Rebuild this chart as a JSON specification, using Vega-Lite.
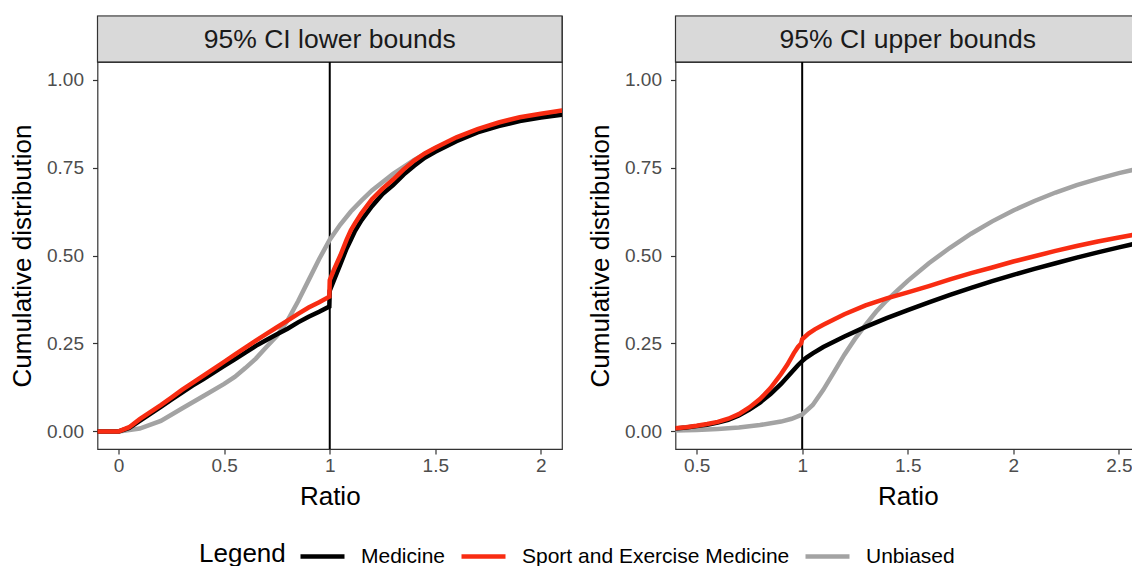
{
  "$schema": "https://vega.github.io/schema/vega-lite/v6.json",
  "padding": {"left": 8.5, "top": 14, "right": 0, "bottom": 0},
  "background": "white",
  "config": {
    "font": "Liberation Sans",
    "view": {"stroke": "#333333", "strokeWidth": 1.2},
    "axis": {
      "grid": false,
      "domain": false,
      "tickColor": "#333333",
      "tickSize": 5,
      "tickWidth": 1.2,
      "labelColor": "#4D4D4D",
      "labelFontSize": 19,
      "labelFont": "Liberation Sans",
      "titleFont": "Liberation Sans",
      "titleFontSize": 26,
      "titleFontWeight": "normal",
      "titleColor": "#000000"
    },
    "axisX": {"labelPadding": 2, "titlePadding": 8, "labelFlush": false},
    "axisY": {"labelPadding": 9, "titlePadding": 11}
  },
  "datasets": {
    "lower": [
      {"series": "Unbiased", "ratio": 0, "cdf": 0},
      {"series": "Unbiased", "ratio": 0.1, "cdf": 0.008},
      {"series": "Unbiased", "ratio": 0.2, "cdf": 0.03},
      {"series": "Unbiased", "ratio": 0.3, "cdf": 0.065},
      {"series": "Unbiased", "ratio": 0.4, "cdf": 0.1},
      {"series": "Unbiased", "ratio": 0.5, "cdf": 0.135},
      {"series": "Unbiased", "ratio": 0.55, "cdf": 0.155},
      {"series": "Unbiased", "ratio": 0.6, "cdf": 0.18},
      {"series": "Unbiased", "ratio": 0.65, "cdf": 0.207},
      {"series": "Unbiased", "ratio": 0.7, "cdf": 0.24},
      {"series": "Unbiased", "ratio": 0.75, "cdf": 0.272},
      {"series": "Unbiased", "ratio": 0.8, "cdf": 0.315},
      {"series": "Unbiased", "ratio": 0.85, "cdf": 0.37},
      {"series": "Unbiased", "ratio": 0.9, "cdf": 0.43},
      {"series": "Unbiased", "ratio": 0.95, "cdf": 0.49},
      {"series": "Unbiased", "ratio": 1.0, "cdf": 0.545},
      {"series": "Unbiased", "ratio": 1.05, "cdf": 0.588},
      {"series": "Unbiased", "ratio": 1.1, "cdf": 0.625},
      {"series": "Unbiased", "ratio": 1.15, "cdf": 0.656},
      {"series": "Unbiased", "ratio": 1.2, "cdf": 0.685},
      {"series": "Unbiased", "ratio": 1.3, "cdf": 0.732},
      {"series": "Unbiased", "ratio": 1.4, "cdf": 0.772},
      {"series": "Unbiased", "ratio": 1.5, "cdf": 0.805},
      {"series": "Unbiased", "ratio": 1.6, "cdf": 0.832},
      {"series": "Unbiased", "ratio": 1.7, "cdf": 0.855},
      {"series": "Unbiased", "ratio": 1.8, "cdf": 0.873},
      {"series": "Unbiased", "ratio": 1.9, "cdf": 0.888},
      {"series": "Unbiased", "ratio": 2.0, "cdf": 0.9},
      {"series": "Unbiased", "ratio": 2.1, "cdf": 0.91},
      {"series": "Unbiased", "ratio": 2.15, "cdf": 0.914},
      {"series": "Medicine", "ratio": -0.15, "cdf": 0},
      {"series": "Medicine", "ratio": 0, "cdf": 0},
      {"series": "Medicine", "ratio": 0.05, "cdf": 0.01},
      {"series": "Medicine", "ratio": 0.1, "cdf": 0.03},
      {"series": "Medicine", "ratio": 0.15, "cdf": 0.05},
      {"series": "Medicine", "ratio": 0.2, "cdf": 0.07},
      {"series": "Medicine", "ratio": 0.25, "cdf": 0.09},
      {"series": "Medicine", "ratio": 0.3, "cdf": 0.11},
      {"series": "Medicine", "ratio": 0.35, "cdf": 0.13},
      {"series": "Medicine", "ratio": 0.4, "cdf": 0.148},
      {"series": "Medicine", "ratio": 0.45, "cdf": 0.167},
      {"series": "Medicine", "ratio": 0.5, "cdf": 0.186},
      {"series": "Medicine", "ratio": 0.55, "cdf": 0.205},
      {"series": "Medicine", "ratio": 0.6, "cdf": 0.224},
      {"series": "Medicine", "ratio": 0.65, "cdf": 0.243},
      {"series": "Medicine", "ratio": 0.7, "cdf": 0.26},
      {"series": "Medicine", "ratio": 0.75, "cdf": 0.276},
      {"series": "Medicine", "ratio": 0.8, "cdf": 0.292},
      {"series": "Medicine", "ratio": 0.85, "cdf": 0.31},
      {"series": "Medicine", "ratio": 0.9, "cdf": 0.326},
      {"series": "Medicine", "ratio": 0.95, "cdf": 0.34},
      {"series": "Medicine", "ratio": 0.998, "cdf": 0.355},
      {"series": "Medicine", "ratio": 1.0, "cdf": 0.4},
      {"series": "Medicine", "ratio": 1.02, "cdf": 0.43},
      {"series": "Medicine", "ratio": 1.05, "cdf": 0.475},
      {"series": "Medicine", "ratio": 1.08, "cdf": 0.52},
      {"series": "Medicine", "ratio": 1.1, "cdf": 0.545},
      {"series": "Medicine", "ratio": 1.12, "cdf": 0.57},
      {"series": "Medicine", "ratio": 1.15, "cdf": 0.6},
      {"series": "Medicine", "ratio": 1.2, "cdf": 0.64},
      {"series": "Medicine", "ratio": 1.25, "cdf": 0.675},
      {"series": "Medicine", "ratio": 1.3, "cdf": 0.7},
      {"series": "Medicine", "ratio": 1.35, "cdf": 0.73},
      {"series": "Medicine", "ratio": 1.4, "cdf": 0.755},
      {"series": "Medicine", "ratio": 1.45, "cdf": 0.778},
      {"series": "Medicine", "ratio": 1.5, "cdf": 0.795},
      {"series": "Medicine", "ratio": 1.6, "cdf": 0.825},
      {"series": "Medicine", "ratio": 1.7, "cdf": 0.85},
      {"series": "Medicine", "ratio": 1.8, "cdf": 0.868},
      {"series": "Medicine", "ratio": 1.9, "cdf": 0.882},
      {"series": "Medicine", "ratio": 2.0, "cdf": 0.892},
      {"series": "Medicine", "ratio": 2.1, "cdf": 0.9},
      {"series": "Medicine", "ratio": 2.15, "cdf": 0.904},
      {"series": "Sport and Exercise Medicine", "ratio": -0.15, "cdf": 0},
      {"series": "Sport and Exercise Medicine", "ratio": 0, "cdf": 0},
      {"series": "Sport and Exercise Medicine", "ratio": 0.05, "cdf": 0.012},
      {"series": "Sport and Exercise Medicine", "ratio": 0.1, "cdf": 0.035},
      {"series": "Sport and Exercise Medicine", "ratio": 0.15, "cdf": 0.055},
      {"series": "Sport and Exercise Medicine", "ratio": 0.2, "cdf": 0.075},
      {"series": "Sport and Exercise Medicine", "ratio": 0.25, "cdf": 0.096},
      {"series": "Sport and Exercise Medicine", "ratio": 0.3, "cdf": 0.118},
      {"series": "Sport and Exercise Medicine", "ratio": 0.35, "cdf": 0.138},
      {"series": "Sport and Exercise Medicine", "ratio": 0.4, "cdf": 0.158},
      {"series": "Sport and Exercise Medicine", "ratio": 0.45, "cdf": 0.178},
      {"series": "Sport and Exercise Medicine", "ratio": 0.5, "cdf": 0.198},
      {"series": "Sport and Exercise Medicine", "ratio": 0.55, "cdf": 0.218},
      {"series": "Sport and Exercise Medicine", "ratio": 0.6, "cdf": 0.238},
      {"series": "Sport and Exercise Medicine", "ratio": 0.65, "cdf": 0.258},
      {"series": "Sport and Exercise Medicine", "ratio": 0.7, "cdf": 0.277},
      {"series": "Sport and Exercise Medicine", "ratio": 0.75, "cdf": 0.296},
      {"series": "Sport and Exercise Medicine", "ratio": 0.8, "cdf": 0.315},
      {"series": "Sport and Exercise Medicine", "ratio": 0.85, "cdf": 0.334},
      {"series": "Sport and Exercise Medicine", "ratio": 0.9, "cdf": 0.352},
      {"series": "Sport and Exercise Medicine", "ratio": 0.95, "cdf": 0.367},
      {"series": "Sport and Exercise Medicine", "ratio": 0.998, "cdf": 0.383},
      {"series": "Sport and Exercise Medicine", "ratio": 1.0, "cdf": 0.43},
      {"series": "Sport and Exercise Medicine", "ratio": 1.02, "cdf": 0.46},
      {"series": "Sport and Exercise Medicine", "ratio": 1.05, "cdf": 0.5},
      {"series": "Sport and Exercise Medicine", "ratio": 1.08, "cdf": 0.545},
      {"series": "Sport and Exercise Medicine", "ratio": 1.1, "cdf": 0.572},
      {"series": "Sport and Exercise Medicine", "ratio": 1.12, "cdf": 0.592},
      {"series": "Sport and Exercise Medicine", "ratio": 1.15, "cdf": 0.62},
      {"series": "Sport and Exercise Medicine", "ratio": 1.2, "cdf": 0.66},
      {"series": "Sport and Exercise Medicine", "ratio": 1.25, "cdf": 0.69},
      {"series": "Sport and Exercise Medicine", "ratio": 1.3, "cdf": 0.716},
      {"series": "Sport and Exercise Medicine", "ratio": 1.35, "cdf": 0.745},
      {"series": "Sport and Exercise Medicine", "ratio": 1.4, "cdf": 0.77},
      {"series": "Sport and Exercise Medicine", "ratio": 1.45, "cdf": 0.79},
      {"series": "Sport and Exercise Medicine", "ratio": 1.5, "cdf": 0.806},
      {"series": "Sport and Exercise Medicine", "ratio": 1.6, "cdf": 0.836},
      {"series": "Sport and Exercise Medicine", "ratio": 1.7, "cdf": 0.859},
      {"series": "Sport and Exercise Medicine", "ratio": 1.8, "cdf": 0.878},
      {"series": "Sport and Exercise Medicine", "ratio": 1.9, "cdf": 0.893},
      {"series": "Sport and Exercise Medicine", "ratio": 2.0, "cdf": 0.903},
      {"series": "Sport and Exercise Medicine", "ratio": 2.1, "cdf": 0.912},
      {"series": "Sport and Exercise Medicine", "ratio": 2.15, "cdf": 0.916}
    ],
    "upper": [
      {"series": "Unbiased", "ratio": 0.38, "cdf": 0.002},
      {"series": "Unbiased", "ratio": 0.5, "cdf": 0.004},
      {"series": "Unbiased", "ratio": 0.6, "cdf": 0.007},
      {"series": "Unbiased", "ratio": 0.7, "cdf": 0.011},
      {"series": "Unbiased", "ratio": 0.8, "cdf": 0.018},
      {"series": "Unbiased", "ratio": 0.9, "cdf": 0.028},
      {"series": "Unbiased", "ratio": 0.95, "cdf": 0.036},
      {"series": "Unbiased", "ratio": 1.0, "cdf": 0.048},
      {"series": "Unbiased", "ratio": 1.05, "cdf": 0.075},
      {"series": "Unbiased", "ratio": 1.1, "cdf": 0.118},
      {"series": "Unbiased", "ratio": 1.15, "cdf": 0.168},
      {"series": "Unbiased", "ratio": 1.2, "cdf": 0.218},
      {"series": "Unbiased", "ratio": 1.25, "cdf": 0.263},
      {"series": "Unbiased", "ratio": 1.3, "cdf": 0.303},
      {"series": "Unbiased", "ratio": 1.35, "cdf": 0.34},
      {"series": "Unbiased", "ratio": 1.4, "cdf": 0.372},
      {"series": "Unbiased", "ratio": 1.45, "cdf": 0.4},
      {"series": "Unbiased", "ratio": 1.5, "cdf": 0.428},
      {"series": "Unbiased", "ratio": 1.6, "cdf": 0.478},
      {"series": "Unbiased", "ratio": 1.7, "cdf": 0.522},
      {"series": "Unbiased", "ratio": 1.8, "cdf": 0.562},
      {"series": "Unbiased", "ratio": 1.9, "cdf": 0.597},
      {"series": "Unbiased", "ratio": 2.0, "cdf": 0.628},
      {"series": "Unbiased", "ratio": 2.1, "cdf": 0.655},
      {"series": "Unbiased", "ratio": 2.2, "cdf": 0.679},
      {"series": "Unbiased", "ratio": 2.3, "cdf": 0.7},
      {"series": "Unbiased", "ratio": 2.4, "cdf": 0.718},
      {"series": "Unbiased", "ratio": 2.5, "cdf": 0.734},
      {"series": "Unbiased", "ratio": 2.6, "cdf": 0.748},
      {"series": "Unbiased", "ratio": 2.65, "cdf": 0.754},
      {"series": "Medicine", "ratio": 0.38, "cdf": 0.007},
      {"series": "Medicine", "ratio": 0.45, "cdf": 0.011},
      {"series": "Medicine", "ratio": 0.5, "cdf": 0.015},
      {"series": "Medicine", "ratio": 0.55, "cdf": 0.019},
      {"series": "Medicine", "ratio": 0.6, "cdf": 0.025},
      {"series": "Medicine", "ratio": 0.65, "cdf": 0.033},
      {"series": "Medicine", "ratio": 0.7, "cdf": 0.045},
      {"series": "Medicine", "ratio": 0.75, "cdf": 0.062},
      {"series": "Medicine", "ratio": 0.8, "cdf": 0.082},
      {"series": "Medicine", "ratio": 0.85, "cdf": 0.106},
      {"series": "Medicine", "ratio": 0.9, "cdf": 0.135},
      {"series": "Medicine", "ratio": 0.95, "cdf": 0.168},
      {"series": "Medicine", "ratio": 0.98, "cdf": 0.188},
      {"series": "Medicine", "ratio": 1.0, "cdf": 0.2},
      {"series": "Medicine", "ratio": 1.02, "cdf": 0.21},
      {"series": "Medicine", "ratio": 1.05, "cdf": 0.222},
      {"series": "Medicine", "ratio": 1.1, "cdf": 0.24},
      {"series": "Medicine", "ratio": 1.2, "cdf": 0.27},
      {"series": "Medicine", "ratio": 1.3, "cdf": 0.297},
      {"series": "Medicine", "ratio": 1.4, "cdf": 0.322},
      {"series": "Medicine", "ratio": 1.5, "cdf": 0.345},
      {"series": "Medicine", "ratio": 1.6, "cdf": 0.367},
      {"series": "Medicine", "ratio": 1.7, "cdf": 0.388},
      {"series": "Medicine", "ratio": 1.8, "cdf": 0.408},
      {"series": "Medicine", "ratio": 1.9, "cdf": 0.427},
      {"series": "Medicine", "ratio": 2.0, "cdf": 0.445},
      {"series": "Medicine", "ratio": 2.1, "cdf": 0.462},
      {"series": "Medicine", "ratio": 2.2, "cdf": 0.478},
      {"series": "Medicine", "ratio": 2.3, "cdf": 0.494},
      {"series": "Medicine", "ratio": 2.4, "cdf": 0.509},
      {"series": "Medicine", "ratio": 2.5, "cdf": 0.523},
      {"series": "Medicine", "ratio": 2.6, "cdf": 0.537},
      {"series": "Medicine", "ratio": 2.65, "cdf": 0.543},
      {"series": "Sport and Exercise Medicine", "ratio": 0.38, "cdf": 0.008},
      {"series": "Sport and Exercise Medicine", "ratio": 0.45, "cdf": 0.012},
      {"series": "Sport and Exercise Medicine", "ratio": 0.5, "cdf": 0.016},
      {"series": "Sport and Exercise Medicine", "ratio": 0.55, "cdf": 0.021},
      {"series": "Sport and Exercise Medicine", "ratio": 0.6, "cdf": 0.027},
      {"series": "Sport and Exercise Medicine", "ratio": 0.65, "cdf": 0.036},
      {"series": "Sport and Exercise Medicine", "ratio": 0.7, "cdf": 0.049},
      {"series": "Sport and Exercise Medicine", "ratio": 0.75, "cdf": 0.068},
      {"series": "Sport and Exercise Medicine", "ratio": 0.8, "cdf": 0.092},
      {"series": "Sport and Exercise Medicine", "ratio": 0.85, "cdf": 0.123},
      {"series": "Sport and Exercise Medicine", "ratio": 0.9, "cdf": 0.163},
      {"series": "Sport and Exercise Medicine", "ratio": 0.93, "cdf": 0.19},
      {"series": "Sport and Exercise Medicine", "ratio": 0.96, "cdf": 0.222},
      {"series": "Sport and Exercise Medicine", "ratio": 0.98, "cdf": 0.24},
      {"series": "Sport and Exercise Medicine", "ratio": 0.995, "cdf": 0.25},
      {"series": "Sport and Exercise Medicine", "ratio": 1.0, "cdf": 0.262},
      {"series": "Sport and Exercise Medicine", "ratio": 1.03, "cdf": 0.278},
      {"series": "Sport and Exercise Medicine", "ratio": 1.06, "cdf": 0.29},
      {"series": "Sport and Exercise Medicine", "ratio": 1.1, "cdf": 0.303},
      {"series": "Sport and Exercise Medicine", "ratio": 1.15, "cdf": 0.318},
      {"series": "Sport and Exercise Medicine", "ratio": 1.2, "cdf": 0.333},
      {"series": "Sport and Exercise Medicine", "ratio": 1.3, "cdf": 0.358},
      {"series": "Sport and Exercise Medicine", "ratio": 1.4, "cdf": 0.378},
      {"series": "Sport and Exercise Medicine", "ratio": 1.5, "cdf": 0.395},
      {"series": "Sport and Exercise Medicine", "ratio": 1.6, "cdf": 0.413},
      {"series": "Sport and Exercise Medicine", "ratio": 1.7, "cdf": 0.432},
      {"series": "Sport and Exercise Medicine", "ratio": 1.8, "cdf": 0.45},
      {"series": "Sport and Exercise Medicine", "ratio": 1.9, "cdf": 0.466},
      {"series": "Sport and Exercise Medicine", "ratio": 2.0, "cdf": 0.483},
      {"series": "Sport and Exercise Medicine", "ratio": 2.1, "cdf": 0.498},
      {"series": "Sport and Exercise Medicine", "ratio": 2.2, "cdf": 0.513},
      {"series": "Sport and Exercise Medicine", "ratio": 2.3, "cdf": 0.527},
      {"series": "Sport and Exercise Medicine", "ratio": 2.4, "cdf": 0.54},
      {"series": "Sport and Exercise Medicine", "ratio": 2.5, "cdf": 0.551},
      {"series": "Sport and Exercise Medicine", "ratio": 2.6, "cdf": 0.562},
      {"series": "Sport and Exercise Medicine", "ratio": 2.65, "cdf": 0.567}
    ]
  },
  "resolve": {"scale": {"x": "independent", "y": "independent", "color": "shared", "strokeWidth": "shared"}},
  "spacing": 23,
  "hconcat": [
    {
      "bounds": "flush",
      "spacing": 0,
      "vconcat": [
        {
          "width": 464.5,
          "height": 46,
          "data": {"values": [{"panel": "95% CI lower bounds"}]},
          "layer": [
            {
              "mark": {"type": "rect", "fill": "#D9D9D9", "stroke": "#333333", "strokeWidth": 1.2},
              "encoding": {"x": {"field": "panel", "type": "nominal", "axis": null, "scale": {"paddingInner": 0, "paddingOuter": 0}}}
            },
            {
              "mark": {"type": "text", "fontSize": 26.5, "color": "#1A1A1A", "baseline": "middle", "dy": 1},
              "encoding": {"x": {"field": "panel", "type": "nominal", "axis": null}, "text": {"field": "panel"}}
            }
          ]
        },
        {
          "width": 464.5,
          "height": 387,
          "layer": [
            {
              "data": {"values": [{"ratio": 1}]},
              "mark": {"type": "rule", "color": "#000000", "strokeWidth": 2},
              "encoding": {"x": {"field": "ratio", "type": "quantitative", "scale": {"domain": [-0.1, 2.1], "nice": false, "zero": false}}}
            },
            {
              "data": {"name": "lower"},
              "mark": {"type": "line", "clip": true},
              "encoding": {
                "x": {"field": "ratio", "type": "quantitative", "scale": {"domain": [-0.1, 2.1], "nice": false, "zero": false},
                  "axis": {"title": "Ratio", "values": [0, 0.5, 1, 1.5, 2], "labelExpr": "datum.value + ''"}},
                "y": {"field": "cdf", "type": "quantitative", "scale": {"domain": [-0.05, 1.05], "nice": false},
                  "axis": {"title": "Cumulative distribution", "values": [0, 0.25, 0.5, 0.75, 1], "format": ".2f"}},
                "color": {"field": "series", "type": "nominal",
                  "scale": {"domain": ["Medicine", "Sport and Exercise Medicine", "Unbiased"], "range": ["#000000", "#F82C12", "#A3A3A3"]},
                  "legend": {"title": "Legend", "orient": "none", "direction": "horizontal", "legendX": 101.5, "legendY": 516,
                    "titleOrient": "left", "titleAnchor": "middle", "titleBaseline": "line-top", "titleLineHeight": 11.5,
                    "titleFontSize": 26, "titleFontWeight": "normal", "titleColor": "#000000", "titlePadding": 12,
                    "symbolType": "stroke", "symbolSize": 1936, "symbolStrokeWidth": 5, "gridAlign": "none",
                    "labelFontSize": 21, "labelColor": "#000000", "labelOffset": 14, "labelLimit": 500, "columnPadding": 6}},
                "strokeWidth": {"field": "series", "type": "nominal",
                  "scale": {"domain": ["Medicine", "Sport and Exercise Medicine", "Unbiased"], "range": [4.5, 4.5, 3]}, "legend": null}
              }
            }
          ]
        }
      ]
    },
    {
      "bounds": "flush",
      "spacing": 0,
      "vconcat": [
        {
          "width": 464.5,
          "height": 46,
          "data": {"values": [{"panel": "95% CI upper bounds"}]},
          "layer": [
            {
              "mark": {"type": "rect", "fill": "#D9D9D9", "stroke": "#333333", "strokeWidth": 1.2},
              "encoding": {"x": {"field": "panel", "type": "nominal", "axis": null, "scale": {"paddingInner": 0, "paddingOuter": 0}}}
            },
            {
              "mark": {"type": "text", "fontSize": 26.5, "color": "#1A1A1A", "baseline": "middle", "dy": 1},
              "encoding": {"x": {"field": "panel", "type": "nominal", "axis": null}, "text": {"field": "panel"}}
            }
          ]
        },
        {
          "width": 464.5,
          "height": 387,
          "layer": [
            {
              "data": {"values": [{"ratio": 1}]},
              "mark": {"type": "rule", "color": "#000000", "strokeWidth": 2},
              "encoding": {"x": {"field": "ratio", "type": "quantitative", "scale": {"domain": [0.4, 2.6], "nice": false, "zero": false}}}
            },
            {
              "data": {"name": "upper"},
              "mark": {"type": "line", "clip": true},
              "encoding": {
                "x": {"field": "ratio", "type": "quantitative", "scale": {"domain": [0.4, 2.6], "nice": false, "zero": false},
                  "axis": {"title": "Ratio", "values": [0.5, 1, 1.5, 2, 2.5], "labelExpr": "datum.value + ''"}},
                "y": {"field": "cdf", "type": "quantitative", "scale": {"domain": [-0.05, 1.05], "nice": false},
                  "axis": {"title": "Cumulative distribution", "values": [0, 0.25, 0.5, 0.75, 1], "format": ".2f"}},
                "color": {"field": "series", "type": "nominal",
                  "scale": {"domain": ["Medicine", "Sport and Exercise Medicine", "Unbiased"], "range": ["#000000", "#F82C12", "#A3A3A3"]}},
                "strokeWidth": {"field": "series", "type": "nominal",
                  "scale": {"domain": ["Medicine", "Sport and Exercise Medicine", "Unbiased"], "range": [4.5, 4.5, 3]}, "legend": null}
              }
            }
          ]
        }
      ]
    }
  ]
}
